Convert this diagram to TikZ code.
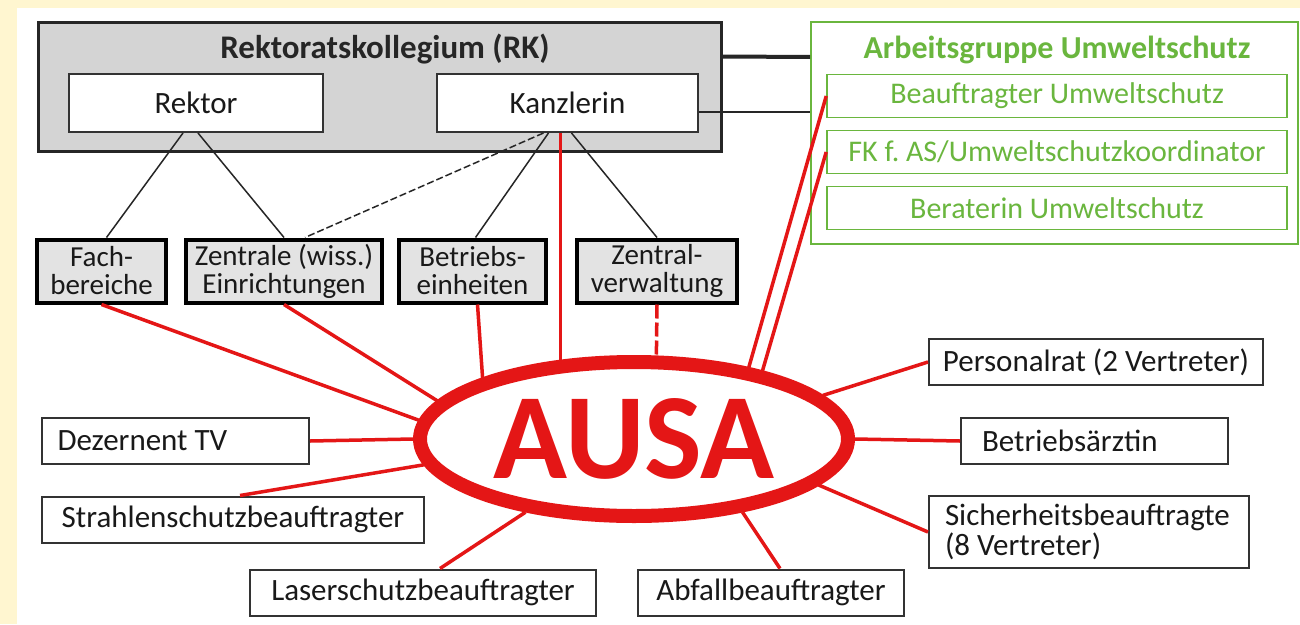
\documentclass[tikz,border=0pt]{standalone}
\usepackage{fontspec}
\setmainfont{Carlito}
\usetikzlibrary{shapes.geometric}
\definecolor{agreen}{RGB}{106,182,62}
\definecolor{ausared}{RGB}{228,22,22}
\definecolor{paper}{RGB}{255,246,208}
\frenchspacing
\tikzset{
  box/.style={draw=black!80,line width=2pt,fill=white,minimum height=46pt,inner sep=0pt,text=black!90,font=\fontsize{31}{30}\selectfont},
  unit/.style={draw=black,line width=4pt,fill=black!11,minimum height=63pt,inner sep=0pt,align=center,text=black!90,font=\fontsize{29}{28}\selectfont},
  gbox/.style={draw=agreen,line width=1.6pt,fill=white,text=agreen,minimum width=460pt,minimum height=43pt,inner sep=0pt,font=\fontsize{30}{30}\selectfont},
  org/.style={black!85,line width=1.5pt},
  rline/.style={ausared,line width=3.5pt},
}
\begin{document}
\begin{tikzpicture}[x=1pt,y=-1pt]
\fill[paper](0,0)rectangle(1300,624);
\fill[white](17,8)rectangle(1300,624);
\useasboundingbox(0,0)rectangle(1300,624);
\node[draw=black!85,line width=3pt,fill=black!17,minimum width=683pt,minimum height=129pt](rk)at(380,86.5){};
\node[font=\bfseries\fontsize{33}{33}\selectfont,text=black!85](rkt)at(385,49){Rektoratskollegium (RK)};
\node[box,minimum width=254pt,minimum height=58pt](rektor)at(196,103){Rektor};
\node[box,minimum width=261pt,minimum height=58pt](kanz)at(567.5,103){Kanzlerin};
\node[draw=agreen,line width=1.6pt,fill=white,minimum width=487pt,minimum height=222pt](ag)at(1054.5,133){};
\node[text=agreen,font=\bfseries\fontsize{32}{32}\selectfont](agt)at(1057,50){Arbeitsgruppe Umweltschutz};
\node[gbox](bu)at(1057,96){Beauftragter Umweltschutz};
\node[gbox](fk)at(1057,152){FK f. AS/Umweltschutzkoordinator};
\node[gbox](bz)at(1057,208){Beraterin Umweltschutz};
\draw[line width=4pt,black!85]([yshift=30pt]rk.east)--([yshift=76pt]ag.west);
\draw[org]([yshift=-9pt]kanz.east)--([yshift=21pt]ag.west);
\node[unit,minimum width=129pt](fach)at(101.5,271){Fach-\\bereiche};
\node[unit,minimum width=196pt](zent)at(284,271){Zentrale (wiss.)\\Einrichtungen};
\node[unit,minimum width=147pt](betr)at(472.5,271){Betriebs-\\einheiten};
\node[unit,minimum width=160pt](zv)at(657,271){Zentral-\\verwaltung};
\draw[org]([xshift=-13pt]rektor.south)--([xshift=5pt]fach.north);
\draw[org]([xshift=2pt]rektor.south)--(zent.north);
\draw[org]([xshift=-19pt]kanz.south)--([xshift=3pt]betr.north);
\draw[org]([xshift=4pt]kanz.south)--(zv.north);
\draw[org,dash pattern=on 7pt off 3pt]([xshift=-24pt]kanz.south)--([xshift=21pt]zent.north);
\node[ellipse,draw=ausared,line width=14pt,fill=white,minimum width=428pt,minimum height=154pt,inner sep=0pt,text=ausared,font=\bfseries\fontsize{122}{122}\selectfont](ausa)at(634,439){AUSA};
\node[box,minimum width=267pt,text width=236pt,align=flush left](dez)at(175.5,441){Dezernent TV};
\node[box,minimum width=382pt](strahl)at(233,519.5){Strahlenschutzbeauftragter};
\node[box,minimum width=346pt](laser)at(423,592.5){Laserschutzbeauftragter};
\node[box,minimum width=266pt](abfall)at(771,592.5){Abfallbeauftragter};
\node[box,minimum width=334pt](pers)at(1096,362){Personalrat (2 Vertreter)};
\node[box,minimum width=267pt,text width=225pt,align=flush left](arzt)at(1094.5,441){Betriebsärztin};
\node[box,minimum width=320pt,minimum height=72pt,text width=288pt,align=flush left](sich)at(1089,532){Sicherheitsbeauftragte\\(8 Vertreter)};
\draw[rline](fach.south)--(ausa.175);
\draw[rline](zent.south)--(ausa.169);
\draw[rline]([xshift=5pt]betr.south)--(ausa.158);
\draw[rline]([xshift=-7pt]kanz.south)--([xshift=-7pt,yshift=-8pt]kanz.south|-ausa.north);
\draw[rline,dash pattern=on 14pt off 4pt](zv.south)--(ausa.75);
\draw[rline](ausa.32)--(bu.west);
\draw[rline](ausa.28)--(fk.west);
\draw[rline](dez.east)--(ausa.west);
\draw[rline]([xshift=7pt]strahl.north)--(ausa.187);
\draw[rline]([xshift=17pt]laser.north)--(ausa.214);
\draw[rline]([xshift=9pt]abfall.north)--(ausa.-34);
\draw[rline](pers.west)--(ausa.13);
\draw[rline](arzt.west)--(ausa.east);
\draw[rline](sich.west)--(ausa.-14);
\end{tikzpicture}
\end{document}
